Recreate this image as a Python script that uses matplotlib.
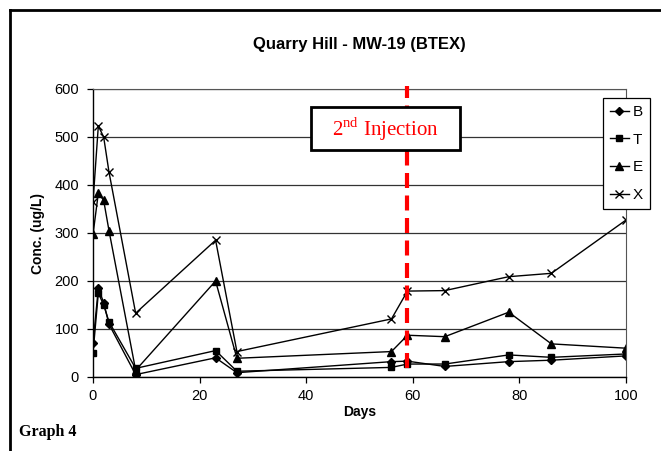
import matplotlib
matplotlib.use('Agg')
import matplotlib.pyplot as plt
from matplotlib.lines import Line2D
from matplotlib.patches import Rectangle

plt.rcParams['font.family'] = ['Liberation Sans', 'DejaVu Sans']
plt.rcParams['mathtext.fontset'] = 'custom'
plt.rcParams['mathtext.rm'] = 'Liberation Serif'

# sampling days and concentrations (ug/L)
days = [0, 1, 2, 3, 8, 23, 27, 56, 59, 66, 78, 86, 100]
benzene = [70, 185, 155, 110, 5, 40, 9, 32, 33, 22, 32, 35, 44]
toluene = [50, 175, 150, 115, 18, 55, 12, 20, 27, 27, 46, 41, 48]
ethylbenzene = [297, 383, 368, 305, 14, 200, 39, 53, 87, 84, 135, 69, 60]
xylene = [365, 523, 500, 427, 133, 285, 53, 121, 179, 180, 209, 216, 327]
injection_day = 59

W, H = 661, 451
fig = plt.figure(figsize=(W / 100, H / 100), dpi=100)
ax = fig.add_axes([93 / W, 1 - 377 / H, 533 / W, 288 / H])

ax.plot(days, benzene, color='black', lw=1, marker='D', ms=4, label='B')
ax.plot(days, toluene, color='black', lw=1, marker='s', ms=5, label='T')
ax.plot(days, ethylbenzene, color='black', lw=1, marker='^', ms=6, label='E')
ax.plot(days, xylene, color='black', lw=1, marker='x', ms=6, mew=1, label='X')

# 2nd injection marker
ax.plot([injection_day, injection_day], [18, 606], color='red', lw=3,
        dashes=(3.6, 1.8), clip_on=False, zorder=5)

ax.set_xlim(0, 100)
ax.set_ylim(0, 600)
ax.set_xticks([0, 20, 40, 60, 80, 100])
ax.set_yticks([0, 100, 200, 300, 400, 500, 600])
ax.yaxis.grid(True, color='#333333', lw=0.9)
ax.set_axisbelow(True)
ax.tick_params(axis='both', direction='out', length=4, width=0.9,
               labelsize=10.5, pad=6)
ax.tick_params(axis='x', pad=5)
for s in ['top', 'right']:
    ax.spines[s].set_color('#555555')
    ax.spines[s].set_linewidth(0.8)
for s in ['left', 'bottom']:
    ax.spines[s].set_linewidth(1)

ax.set_title('Quarry Hill - MW-19 (BTEX)', fontsize=12, fontweight='bold',
             pad=29)
ax.set_xlabel('Days', fontsize=10, fontweight='bold', labelpad=1)
ax.set_ylabel('Conc. (ug/L)', fontsize=10, fontweight='bold', labelpad=7)

leg = ax.legend(loc='upper left', bbox_to_anchor=(603 / W, 1 - 98 / H),
                bbox_transform=fig.transFigure, borderaxespad=0,
                fancybox=False, edgecolor='black', framealpha=1,
                fontsize=11, handlelength=1.25, handletextpad=0.25,
                labelspacing=0.9, borderpad=0.45)
leg.get_frame().set_linewidth(0.9)

# text box
fig.patches.append(Rectangle((311, H - 150), 149, 43, transform=None,
                             facecolor='white', edgecolor='black', lw=2,
                             zorder=6))
fig.text(385.5 / W, 1 - 129 / H, r'2$^{\rm nd}$ Injection', color='red',
         family='Liberation Serif', fontsize=15, ha='center', va='center',
         zorder=7)

fig.text(19 / W, 1 - 432 / H, 'Graph 4', family='Liberation Serif',
         fontweight='bold', fontsize=11.5, va='center')

# outer frame (top and left only)
fig.add_artist(Line2D([9.5 / W, 1], [1 - 9.5 / H, 1 - 9.5 / H], color='black', lw=2))
fig.add_artist(Line2D([9.5 / W, 9.5 / W], [0, 1 - 9.5 / H], color='black', lw=2))

fig.savefig('out.png', dpi=100)
